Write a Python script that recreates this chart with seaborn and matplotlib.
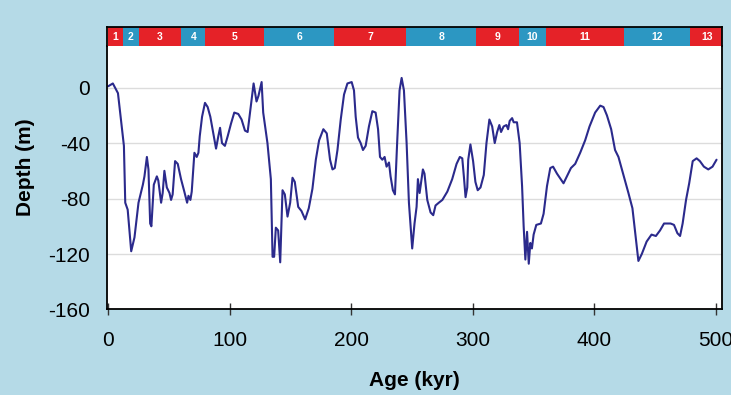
import matplotlib
matplotlib.use("Agg")
import matplotlib.pyplot as plt
import seaborn as sns
import pandas as pd

# ---- data ----
age = [0, 3.8, 8, 12.9, 14, 16, 18.9, 21.6, 24.9, 28.5, 29.8, 31.8, 33.1, 34.5, 35.5,
       37.5, 40, 41.2, 43.5, 44.8, 46.2, 48.2, 50.4, 51.7, 53, 55, 57.2, 59.9, 62.6,
       64.9, 66, 67.6, 68.7, 70.9, 72.8, 74.2, 75.3, 77.2, 79.6, 81.8, 84, 86.5, 88.7,
       90.6, 92, 93.6, 96, 98.3, 101, 103.7, 107, 109.7, 112.5, 114.7, 116.9, 119.6,
       122, 123.6, 126.2, 127.5, 131, 133.8, 135.2, 136.5, 137.9, 139.8, 141.5, 143.4,
       145.3, 147.5, 149.7, 151.6, 153.5, 156.3, 159, 162, 165, 168, 170.8, 173.5, 177,
       179.8, 182.5, 184.5, 186.4, 188.6, 191.3, 194, 196.8, 200.3, 202.2, 203.6, 205.5,
       207.7, 209.6, 211.8, 214.5, 217.3, 220, 222, 223.6, 225.5, 227.4, 229, 231, 232.3,
       234.2, 235.9, 237.8, 239.7, 241.4, 243.3, 245.5, 247.4, 249.3, 250.1, 252, 253.7,
       254.8, 256.2, 257.5, 258.9, 260.2, 262.5, 265.2, 267.4, 269.3, 272, 274.9, 279,
       283, 286.6, 289.3, 291.3, 292.6, 294, 295.4, 296.2, 298, 300.2, 302.1, 304, 306.3,
       309, 311.2, 313.6, 315.9, 318, 320, 321.8, 323.2, 325.3, 327.6, 329, 330.3, 332.3,
       333.6, 336.3, 338.5, 340.5, 341.8, 343.2, 344.6, 346, 347.3, 348.6, 350, 352.2,
       356, 358.2, 361, 363.7, 366, 369.2, 374.6, 377.4, 380.7, 384.2, 388.3, 392.4, 396,
       400.6, 404.8, 407.5, 410.3, 413.8, 417, 419.8, 423.9, 428, 431.3, 434.3, 436.2,
       439, 443, 447, 450.6, 454, 457.3, 462.7, 465.5, 468.3, 470.5, 472.6, 475.4, 478,
       480.9, 484.1, 486.8, 490.1, 493.7, 497.2, 500.5]
depth = [1, 3, -4, -42, -83, -88, -118, -108, -83, -70, -64, -50, -59, -98, -100,
         -70, -64, -67, -83, -76, -60, -72, -76, -81, -77, -53, -55, -66, -75,
         -83, -78, -81, -75, -47, -50, -47, -35, -21, -11, -14, -21, -33, -44,
         -35, -29, -40, -42, -35, -26, -18, -19, -23, -31, -32, -16, 3,
         -10, -6, 4, -18, -40, -66, -122, -122, -101, -103, -126, -74,
         -77, -93, -83, -65, -68, -86, -89, -95, -87, -73, -52, -38, -30,
         -33, -52, -59, -58, -45, -23, -5, 3, 4, -2, -21, -36,
         -40, -45, -42, -28, -17, -18, -30, -50, -52, -50, -57, -54, -64,
         -74, -77, -38, -2, 7, -2, -40, -83, -106, -116, -98, -86,
         -66, -76, -68, -59, -62, -81, -90, -92, -85, -83, -81, -75,
         -66, -55, -50, -51, -64, -79, -72, -52, -41, -53, -68, -74, -72,
         -63, -40, -23, -28, -40, -32, -27, -32, -28, -27, -30, -24, -22,
         -25, -25, -40, -71, -100, -124, -104, -127, -112, -116, -106, -99,
         -98, -91, -71, -58, -57, -62, -69, -64, -58, -55, -47, -38, -28,
         -18, -13, -14, -20, -30, -45, -50, -63, -76, -87, -110, -125,
         -120, -111, -106, -107, -103, -98, -98, -99, -105, -107, -98, -81, -69,
         -53, -51, -53, -57, -59, -57, -52]

stage_labels = ["1", "2", "3", "4", "5", "6", "7", "8", "9", "10", "11", "12", "13"]
stage_edges = [0, 12, 25, 60, 80, 128, 186, 245, 303, 338, 360, 424, 479, 506]

x_ticks = [0, 100, 200, 300, 400, 500]
y_ticks = [0, -40, -80, -120, -160]

# ---- style ----
sns.set_style("white")
plt.rcParams["font.family"] = ["Liberation Sans", "DejaVu Sans"]
plt.rcParams["text.color"] = "black"
plt.rcParams["axes.labelcolor"] = "black"
plt.rcParams["xtick.color"] = "black"
plt.rcParams["ytick.color"] = "black"

BG = "#b5dae7"
RED = "#e52228"
BLUE = "#2c97c2"
LINE = "#2b2a8c"

fig = plt.figure(figsize=(7.31, 3.95), dpi=100)
fig.patch.set_facecolor(BG)

ax = fig.add_axes([0.1464, 0.2165, 0.8413, 0.667])
axb = fig.add_axes([0.1464, 0.8835, 0.8413, 0.048], sharex=ax)

df = pd.DataFrame({"age": age, "depth": depth})
sns.lineplot(data=df, x="age", y="depth", ax=ax, color=LINE, lw=1.5,
             sort=False, estimator=None)

ax.set_xlim(-1, 505)
ax.set_ylim(-160, 30)
ax.set_facecolor("white")
ax.set_xticks(x_ticks)
ax.set_yticks(y_ticks)
ax.set_xticklabels([str(v) for v in x_ticks], fontsize=15)
ax.set_yticklabels([str(v) for v in y_ticks], fontsize=15)
ax.tick_params(axis="x", direction="inout", length=9, width=1, color="#333333", pad=11,
               bottom=True)
ax.tick_params(axis="y", length=0, pad=12)
for v in y_ticks[:-1]:
    ax.axhline(v, color="#dcdcdc", lw=1, zorder=0)
for s in ["left", "bottom", "right"]:
    ax.spines[s].set_color("black")
    ax.spines[s].set_linewidth(1.3)
ax.spines["top"].set_visible(False)

ax.set_xlabel("Age (kyr)", fontsize=15, fontweight="bold")
ax.set_ylabel("Depth (m)", fontsize=15, fontweight="bold")
ax.xaxis.set_label_coords(0.5, -0.235)
ax.yaxis.set_label_coords(-0.117, 0.54)

# stage bar
for i, lab in enumerate(stage_labels):
    left = stage_edges[i]
    w = stage_edges[i + 1] - left
    col = RED if i % 2 == 0 else BLUE
    axb.bar(left, 1, width=w, align="edge", color=col, edgecolor="none")
    axb.text(left + w / 2, 0.5, lab, color="white", fontsize=7.5, fontweight="bold",
             ha="center", va="center")
axb.set_ylim(0, 1)
axb.set_yticks([])
axb.tick_params(axis="x", bottom=False, labelbottom=False)
for s in ["left", "top", "right"]:
    axb.spines[s].set_color("black")
    axb.spines[s].set_linewidth(1.3)
axb.spines["bottom"].set_visible(False)

fig.savefig("out.png", dpi=100, facecolor=BG)
